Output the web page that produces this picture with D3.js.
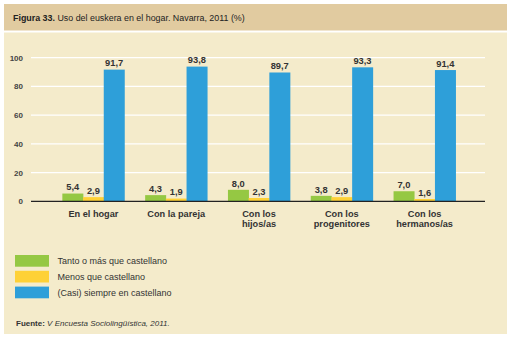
<!DOCTYPE html>
<html><head><meta charset="utf-8">
<script src="https://cdn.jsdelivr.net/npm/d3@7/dist/d3.min.js"></script>
<style>
html,body{margin:0;padding:0;background:#fff;}
svg{display:block;font-family:"Liberation Sans",Arial,sans-serif;}
</style></head>
<body>
<script>
const categories = [["En el hogar"],["Con la pareja"],["Con los","hijos/as"],["Con los","progenitores"],["Con los","hermanos/as"]];
const seriesNames = ["Tanto o más que castellano","Menos que castellano","(Casi) siempre en castellano"];
const tanto = [5.4, 4.3, 8.0, 3.8, 7.0];
const menos = [2.9, 1.9, 2.3, 2.9, 1.6];
const siempre = [91.7, 93.8, 89.7, 93.3, 91.4];
const yTicks = [0, 20, 40, 60, 80, 100];
const colors = ["#95c843", "#fed136", "#2e9fd9"];

const W = 514, H = 340;
const svg = d3.select("body").append("svg").attr("width", W).attr("height", H);

// panels
svg.append("rect").attr("x",4).attr("y",4).attr("width",503).attr("height",26.5).attr("fill","#e1cba0");
svg.append("rect").attr("x",4).attr("y",32.5).attr("width",503).attr("height",301.5).attr("fill","#f4ebcb");

// title
const t = svg.append("text").attr("x",13).attr("y",20.5).attr("font-size",8.9).attr("fill","#222");
t.append("tspan").attr("font-weight","bold").text("Figura 33.");
t.append("tspan").text(" Uso del euskera en el hogar. Navarra, 2011 (%)");

const series = [tanto, menos, siempre];
const catKeys = categories.map(c => c.join(" "));

const y = d3.scaleLinear().domain([0,100]).range([201.3, 57.7]);
const x0 = d3.scaleBand().domain(catKeys).range([52, 466]).paddingInner(0.25).paddingOuter(0.125);
const x1 = d3.scaleBand().domain(d3.range(3)).range([0, x0.bandwidth()]);

// gridlines
svg.append("g").selectAll("line").data(yTicks.filter(d=>d>0)).join("line")
  .attr("x1",31).attr("x2",485).attr("y1",d=>y(d)).attr("y2",d=>y(d))
  .attr("stroke","#ffffff").attr("stroke-width",1.2);

// y axis labels
const yAxis = d3.axisLeft(y).tickValues(yTicks).tickSize(0).tickPadding(0).tickFormat(d3.format("d"));
const ya = svg.append("g").attr("transform","translate(23,0)").call(yAxis);
ya.select(".domain").remove();
ya.selectAll("text").attr("font-size",8).attr("font-weight","bold").attr("fill","#444")
  .attr("font-family","Liberation Sans, Arial, sans-serif");

// bars
const groups = svg.append("g").selectAll("g").data(catKeys).join("g")
  .attr("transform", d => `translate(${x0(d)},0)`);
groups.each(function(cat, i){
  const g = d3.select(this);
  series.forEach((s, j) => {
    g.append("rect").attr("x", x1(j)).attr("width", x1.bandwidth()+0.3)
      .attr("y", y(s[i])).attr("height", y(0)-y(s[i])).attr("fill", colors[j]);
    g.append("text").attr("x", x1(j)+x1.bandwidth()/2).attr("y", y(s[i])-3.3)
      .attr("text-anchor","middle").attr("font-size",9.3).attr("font-weight","bold").attr("fill","#333")
      .text(d3.format(".1f")(s[i]).replace(".", ","));
  });
});

// baseline
svg.append("line").attr("x1",31).attr("x2",485).attr("y1",y(0)).attr("y2",y(0))
  .attr("stroke","#222").attr("stroke-width",1.3);

// x labels
const xa = svg.append("g");
categories.forEach((lines, i) => {
  const tx = xa.append("text").attr("x", x0(catKeys[i]) + x0.bandwidth()/2).attr("y", 216.8)
    .attr("text-anchor","middle").attr("font-size",9.2).attr("font-weight","bold").attr("fill","#333");
  lines.forEach((l, k) => tx.append("tspan").attr("x", x0(catKeys[i]) + x0.bandwidth()/2).attr("dy", k===0?0:10).text(l));
});

// legend
const lg = svg.append("g");
seriesNames.forEach((n, i) => {
  lg.append("rect").attr("x",15).attr("y",255+i*15.8).attr("width",34).attr("height",11.7).attr("fill",colors[i]);
  lg.append("text").attr("x",57.5).attr("y",264.3+i*15.8).attr("font-size",9).attr("fill","#333").text(n);
});

// source
const f = svg.append("text").attr("x",16).attr("y",325.7).attr("font-size",8).attr("fill","#333");
f.append("tspan").attr("font-weight","bold").text("Fuente:");
f.append("tspan").attr("font-style","italic").text(" V Encuesta Sociolingüística, 2011.");
</script>
</body></html>
